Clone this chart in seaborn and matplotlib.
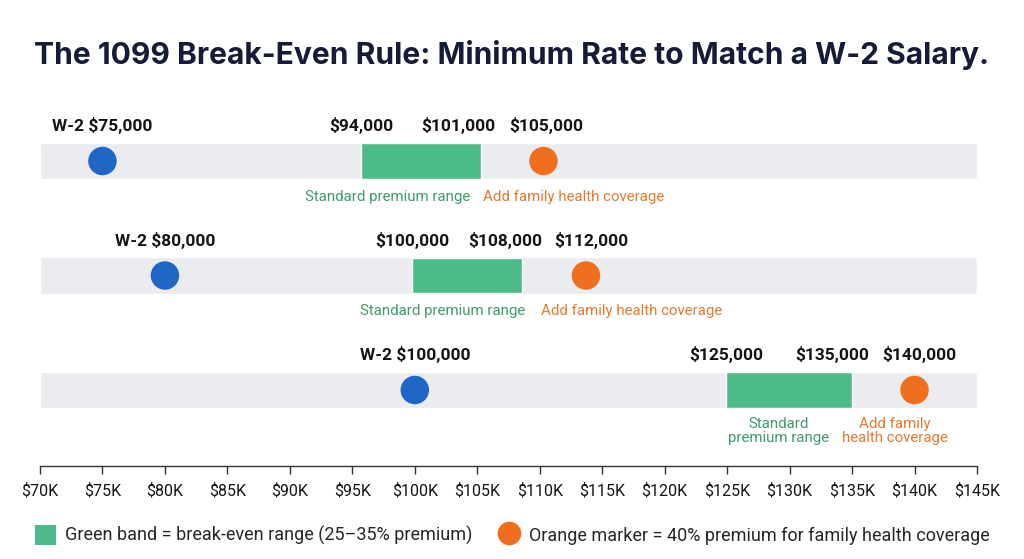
import matplotlib
matplotlib.use("Agg")
import matplotlib.pyplot as plt
import seaborn as sns
import pandas as pd
from matplotlib.lines import Line2D
from matplotlib.patches import Patch

# ---- data ----
w2_salary = [75, 80, 100]            # blue marker position, $K
band_low = [95.7, 99.8, 124.9]       # green band start, $K
band_high = [105.3, 108.6, 135.0]    # green band end, $K
family_rate = [110.3, 113.7, 140.0]  # orange marker position, $K
w2_labels = ["W-2 $75,000", "W-2 $80,000", "W-2 $100,000"]
low_labels = ["$94,000", "$100,000", "$125,000"]
high_labels = ["$101,000", "$108,000", "$135,000"]
family_labels = ["$105,000", "$112,000", "$140,000"]
std_text = ["Standard premium range", "Standard premium range", "Standard\npremium range"]
fam_text = ["Add family health coverage", "Add family health coverage", "Add family\nhealth coverage"]
tick_values = list(range(70, 146, 5))
tick_labels = [f"${v}K" for v in tick_values]

# ---- style ----
BLUE = "#1f66c5"
ORANGE = "#f06f1f"
GREEN = "#4cbb87"
GREEN_TXT = "#3f9b6c"
ORANGE_TXT = "#e27b30"
GREY = "#ebecef"
DARK = "#141414"

sns.set_theme(style="white")
plt.rcParams["font.family"] = ["Roboto", "DejaVu Sans"]

fig = plt.figure(figsize=(10.24, 5.59), dpi=100)
W, H = 1024, 559
ax = fig.add_axes([40 / W, 1 - 466 / H, (977 - 40) / W, (466 - 100) / H])

rows = list(range(len(w2_salary)))
ax.set_xlim(70, 145)
ax.set_ylim(2.664, -0.533)

# grey background bands
ax.barh(rows, [145 - 70] * 3, left=70, height=0.32, color=GREY, zorder=1)
# green break-even bands
ax.barh(rows, [h - l for l, h in zip(band_low, band_high)], left=band_low,
        height=0.31, color=GREEN, zorder=2)

df = pd.DataFrame({
    "x": w2_salary + family_rate,
    "row": rows + rows,
    "kind": ["w2"] * 3 + ["family"] * 3,
})
sns.scatterplot(data=df, x="x", y="row", hue="kind",
                palette={"w2": BLUE, "family": ORANGE},
                s=420, edgecolor="none", legend=False, ax=ax, zorder=3)

label_dy = -0.31
high_dx = [-23, -17, -20]   # px offsets for high labels
fam_dx = [3, 5, 5]
std_dx = [-33, -25, -10]
famt_dx = [30, 46, -20]
px = (145 - 70) / (977 - 40)

for i in rows:
    y_lab = i + label_dy
    kw = dict(fontsize=12.5, fontweight="bold", color=DARK, ha="center", va="center")
    ax.text(w2_salary[i], y_lab, w2_labels[i], **kw)
    ax.text(band_low[i], y_lab, low_labels[i], **kw)
    ax.text(band_high[i] + high_dx[i] * px, y_lab, high_labels[i], **kw)
    ax.text(family_rate[i] + fam_dx[i] * px, y_lab, family_labels[i], **kw)
    two_line = "\n" in std_text[i]
    y_sub = i + (0.31 if not two_line else 0.36)
    skw = dict(fontsize=10.8, ha="center", va="center", linespacing=1.05)
    ax.text((band_low[i] + band_high[i]) / 2 + std_dx[i] * px, y_sub, std_text[i],
            color=GREEN_TXT, **skw)
    ax.text(family_rate[i] + famt_dx[i] * px, y_sub, fam_text[i],
            color=ORANGE_TXT, **skw)

# axis
for s in ["top", "right", "left"]:
    ax.spines[s].set_visible(False)
ax.spines["bottom"].set_color("#333333")
ax.spines["bottom"].set_linewidth(1.0)
ax.set_yticks([])
ax.set_xticks(tick_values)
ax.set_xticklabels(tick_labels, fontsize=11.5, color=DARK)
ax.tick_params(axis="x", bottom=True, direction="out", length=6, width=1,
               color="#333333", pad=6)
ax.set_xlabel("")
ax.set_ylabel("")

fig.text(0.5, 1 - 55 / H, "The 1099 Break-Even Rule: Minimum Rate to Match a W-2 Salary.",
         ha="center", va="center", fontsize=21.6, fontweight="bold", color="#161c38",
         family=["Inter", "DejaVu Sans"])

handles = [Patch(facecolor=GREEN, edgecolor="none"),
           Line2D([], [], marker="o", linestyle="none", markersize=17,
                  markerfacecolor=ORANGE, markeredgecolor="none")]
fig.legend(handles, ["Green band = break-even range (25\u201335% premium)",
                     "Orange marker = 40% premium for family health coverage"],
           loc="center", bbox_to_anchor=(0.5, 1 - 535 / H), ncol=2, frameon=False,
           fontsize=13, handlelength=1.2, handleheight=1.3, columnspacing=1.4,
           handletextpad=0.5)

fig.savefig("out.png", dpi=100, facecolor="white")
